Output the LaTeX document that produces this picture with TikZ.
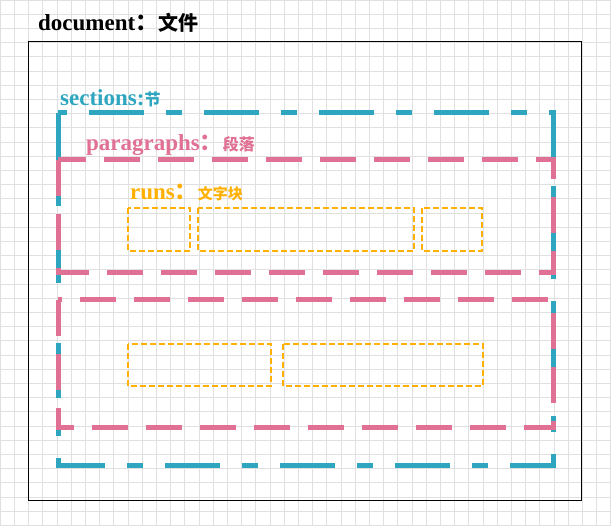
\documentclass[tikz,border=0pt]{standalone}
\usepackage{fontspec}
\setmainfont{Liberation Serif}
\newfontfamily\cjk{Noto Sans CJK SC}
\definecolor{teal1}{HTML}{2EA6C0}
\definecolor{pink1}{HTML}{E07094}
\definecolor{orng}{HTML}{FFB000}
\begin{document}
\begin{tikzpicture}[x=1pt,y=-1pt,
  sec/.style={draw=teal1,line width=5pt,dash pattern=on 55pt off 22pt on 16pt off 22pt},
  par/.style={draw=pink1,line width=5pt,dash pattern=on 36pt off 18pt},
  run/.style={draw=orng,line width=2pt,dash pattern=on 6pt off 3pt},
  lbl/.style={anchor=base west,inner sep=0pt,font=\bfseries}]
\useasboundingbox (0,0) rectangle (611,526);
\fill[white] (0,0) rectangle (611,526);
\draw[black!12,line width=0.6pt,step=14.2pt] (0,0) grid (611,526);
\node[lbl,font=\bfseries\fontsize{23}{26}\selectfont] (title) at (38,31) {document{\cjk ：}{\cjk\fontsize{20}{22}\selectfont 文件}};
\draw[black,line width=0.8pt] (28,41) rectangle (581,500);
\node[lbl,text=teal1,font=\bfseries\fontsize{23}{26}\selectfont] (sl) at (60,106) {sections:{\cjk\fontsize{16}{18}\selectfont 节}};
\draw[sec] (58,113) rectangle (553,466);
\node[lbl,text=pink1,font=\bfseries\fontsize{23}{26}\selectfont] (pl) at (86,151) {paragraphs{\cjk ：}{\cjk\fontsize{16}{18}\selectfont 段落}};
\draw[par] (58,160) rectangle (553,273);
\draw[par] (58,300) rectangle (553,428);
\node[lbl,text=orng,font=\bfseries\fontsize{23}{26}\selectfont] (rl) at (130,200) {runs{\cjk ：}{\cjk\fontsize{15}{18}\selectfont 文字块}};
\draw[run] (128,208) rectangle (190,251);
\draw[run] (198,208) rectangle (414,251);
\draw[run] (422,208) rectangle (482,251);
\draw[run] (128,344) rectangle (271,386);
\draw[run] (283,344) rectangle (483,386);
\end{tikzpicture}
\end{document}
